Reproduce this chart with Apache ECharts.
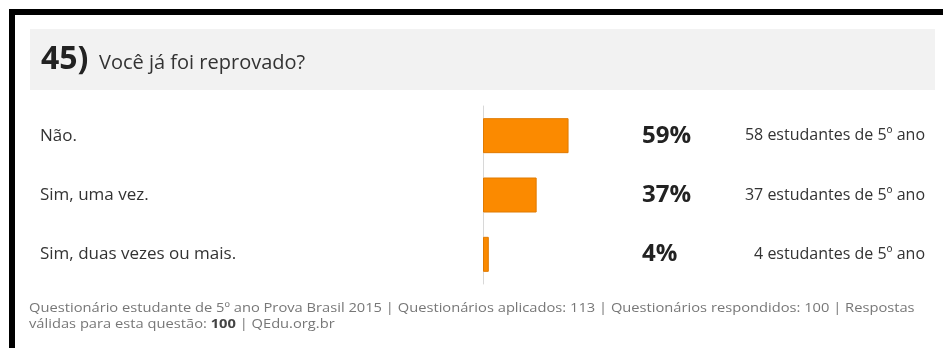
<!DOCTYPE html>
<html>
<head>
<meta charset="utf-8">
<script src="https://cdn.jsdelivr.net/npm/echarts@6/dist/echarts.min.js"></script>
<style>
html,body{margin:0;padding:0;background:#fff;}
#chart{width:943px;height:348px;}
</style>
</head>
<body>
<div id="chart"></div>
<script>
const questionNumber = '45)';
const questionText = 'Você já foi reprovado?';
const categories = ['Não.', 'Sim, uma vez.', 'Sim, duas vezes ou mais.'];
const percents = [59, 37, 4];
const students = [58, 37, 4];
const footerLine1 = 'Questionário estudante de 5º ano Prova Brasil 2015 | Questionários aplicados: 113 | Questionários respondidos: 100 | Respostas';
const footerLine2a = 'válidas para esta questão: ';
const footerLine2b = '100';
const footerLine2c = ' | QEdu.org.br';

const font = '"Open Sans", sans-serif';
const chart = echarts.init(document.getElementById('chart'));

const rightLabels = categories.map((c, i) => '{p|' + percents[i] + '%}{c|' + students[i] + ' estudantes de 5º ano}');

chart.setOption({
  animation: false,
  backgroundColor: '#fff',
  textStyle: { fontFamily: font },
  grid: { left: 483, top: 106, width: 145, height: 178 },
  xAxis: { type: 'value', min: 0, max: 100, show: false },
  yAxis: [
    {
      type: 'category', data: categories, inverse: true, position: 'left',
      axisLine: { show: true, lineStyle: { color: '#d8d8d8', width: 1 } },
      axisTick: { show: false },
      axisLabel: { align: 'left', margin: 443, color: '#333', fontSize: 17, fontFamily: font }
    },
    {
      type: 'category', data: rightLabels, inverse: true, position: 'right',
      axisLine: { show: false }, axisTick: { show: false },
      axisLabel: {
        align: 'left', margin: 14, fontFamily: font,
        formatter: v => v,
        rich: {
          p: { fontSize: 24, fontWeight: 'bold', color: '#222', width: 80, fontFamily: font },
          c: { fontSize: 16, color: '#333', width: 203, align: 'right', fontFamily: font }
        }
      }
    }
  ],
  series: [{
    type: 'bar', data: percents, barWidth: 35, yAxisIndex: 0,
    itemStyle: { color: '#fb8a00', borderColor: '#e07a00', borderWidth: 1 }
  }],
  graphic: [
    { type: 'rect', shape: { x: 9, y: 9, width: 934, height: 6 }, style: { fill: '#000' } },
    { type: 'rect', shape: { x: 9, y: 9, width: 6, height: 339 }, style: { fill: '#000' } },
    { type: 'rect', shape: { x: 30, y: 29, width: 905, height: 61 }, style: { fill: '#f2f2f2' } },
    { type: 'text', x: 41, y: 60, style: { text: questionNumber, font: 'bold 32px "Open Sans", sans-serif', fill: '#222', textVerticalAlign: 'middle' } },
    { type: 'text', x: 99, y: 63, style: { text: questionText, font: '20px "Open Sans", sans-serif', fill: '#333', textVerticalAlign: 'middle' } },
    { type: 'text', x: 29, y: 308, scaleX: 1.13, style: { text: footerLine1, font: '13px "Open Sans", sans-serif', fill: '#777', textVerticalAlign: 'middle' } },
    { type: 'text', x: 29, y: 324, scaleX: 1.13, style: {
      text: '{n|' + footerLine2a + '}{b|' + footerLine2b + '}{n|' + footerLine2c + '}',
      textVerticalAlign: 'middle',
      fill: '#777',
      rich: {
        n: { fontSize: 13, fontFamily: font, fill: '#777' },
        b: { fontSize: 13, fontFamily: font, fontWeight: 'bold', fill: '#444' }
      }
    } }
  ]
});
</script>
</body>
</html>
